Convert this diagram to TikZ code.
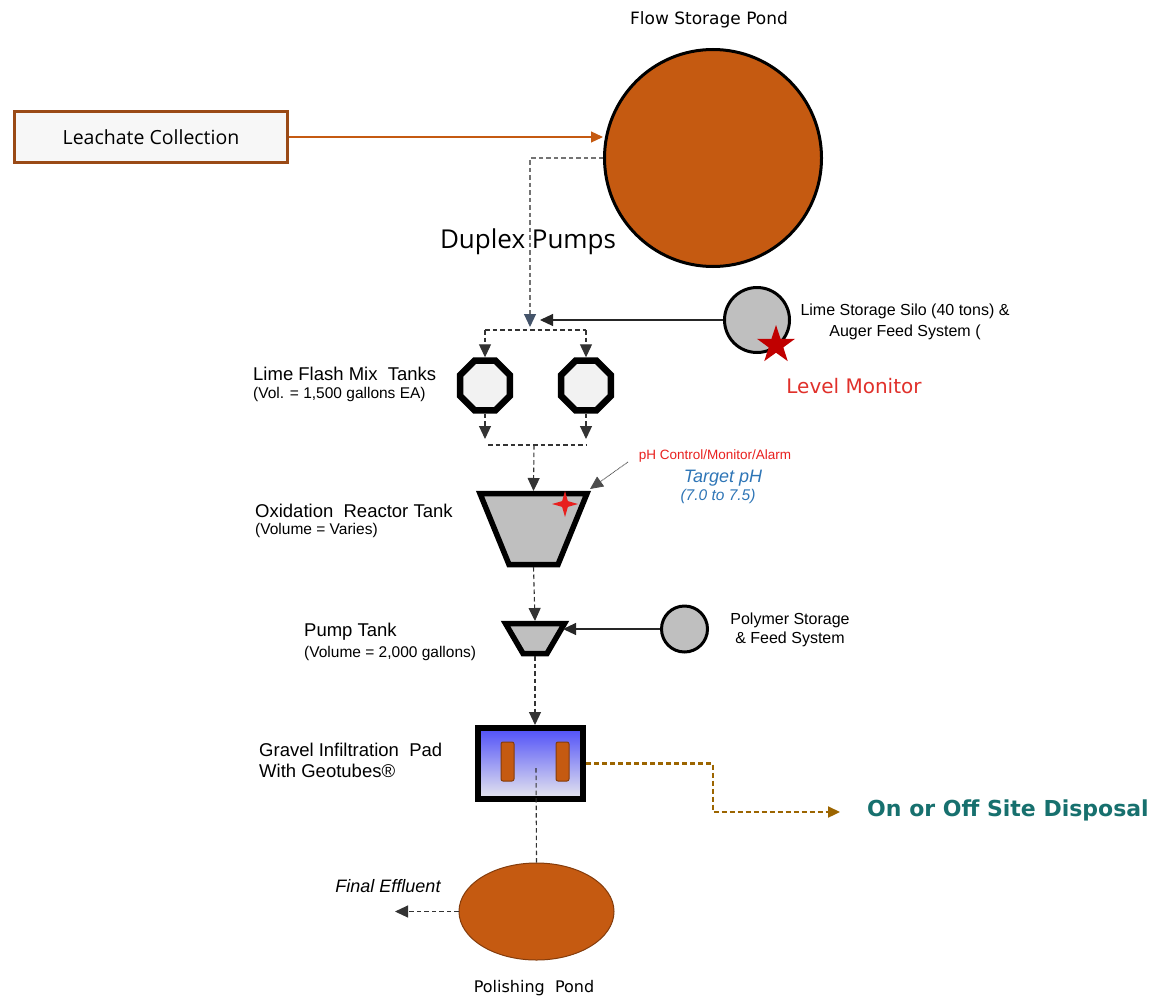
\documentclass[tikz,border=0pt]{standalone}
\usepackage{fontspec}
\setmainfont{Liberation Sans}
\newfontfamily\osans{Open Sans}
\newfontfamily\dvs{DejaVu Sans}
\usetikzlibrary{shapes.geometric,arrows.meta}
\definecolor{pondorange}{HTML}{C55A11}
\definecolor{pondedge}{HTML}{843C0C}
\definecolor{boxedge}{HTML}{9A4A16}
\definecolor{tankgray}{HTML}{BFBFBF}
\definecolor{octfill}{HTML}{F2F2F2}
\definecolor{slate}{HTML}{44546A}
\definecolor{padtop}{HTML}{4F4FF8}
\definecolor{padbot}{HTML}{E8E8EE}
\definecolor{dispbrown}{HTML}{9C6500}
\definecolor{tealc}{HTML}{17706E}
\definecolor{lvlred}{HTML}{E0302A}
\definecolor{starred}{HTML}{C00000}
\definecolor{phred}{HTML}{E8201E}
\definecolor{phblue}{HTML}{2E75B6}
\newcommand\fsz[1]{\fontsize{#1}{#1}\selectfont}
\begin{document}
\begin{tikzpicture}[x=1pt,y=-1pt,
  mytip/.tip={Triangle[length=13pt,width=12pt]},
  dline/.style={dash pattern=on 4.5pt off 3pt, line width=1.1pt, draw=black!80},
  sline/.style={line width=1.1pt, draw=black!85},
  tankline/.style={draw=black, line width=5.5pt, fill=tankgray, line join=miter},
  anchorbox/.style={rectangle, inner sep=0pt, outer sep=2.5pt},
  octbox/.style={regular polygon, regular polygon sides=8, minimum size=54pt, draw=black, line width=6.5pt, fill=octfill, inner sep=0pt},
  feedbox/.style={circle, draw=black, line width=3pt, fill=tankgray, inner sep=0pt},
  tubebox/.style={rectangle, rounded corners=2pt, draw=pondedge, line width=1pt, fill=pondorange, minimum width=13pt, minimum height=39pt, inner sep=0pt},
  lbl/.style={anchor=west, inner sep=0pt, text=black},
  txt/.style={inner sep=0pt, text=black}
]
\useasboundingbox (0,0) rectangle (1155,998);

% Flow storage pond
\node[txt, font=\dvs\fsz{17}] (pondlbl) at (709,20) {Flow Storage Pond};
\node[circle, draw=black, line width=3pt, fill=pondorange, minimum size=217pt, inner sep=0pt] (pond) at (713,158) {};

% Leachate collection
\node[rectangle, draw=boxedge, line width=3pt, fill=black!3, minimum width=273pt, minimum height=51pt, inner sep=0pt, font=\osans\fsz{19.5}] (leach) at (151,137) {Leachate Collection};
\draw[line width=1.2pt, draw=pondorange, -{Triangle[length=12pt,width=11pt,color=pondorange]}] (leach.east) -- (leach.east -| pond.west);

% Duplex pumps
\node[txt, font=\osans\fsz{26}] (duplex) at (528,242) {Duplex Pumps};
\coordinate (junc) at (530,327);
\draw[dash pattern=on 4.5pt off 3pt, line width=1.1pt, draw=black!55, -{Triangle[length=13pt,width=12pt,color=slate]}] (pond.west) -| (junc);

% Lime silo
\node[feedbox, minimum size=65pt] (silo) at (757,320) {};
\node[star, star points=5, star point ratio=2.6, fill=starred, minimum size=40pt, inner sep=0pt] (lstar) at (776,345) {};
\node[txt, font=\fsz{16}] (silo1) at (905,311) {Lime Storage Silo (40 tons) \&};
\node[txt, font=\fsz{16}] (silo2) at (905,332) {Auger Feed System (};
\node[txt, font=\dvs\fsz{20}, text=lvlred] (lvl) at (854,386) {Level Monitor};
\coordinate (limetip) at (540,320);
\draw[sline, -mytip] (silo.west) -- (limetip);

% Lime flash mix tanks
\node[octbox] (oct1) at (485,385.5) {};
\node[octbox] (oct2) at (586,385.5) {};
\node[lbl, font=\fsz{18.5}] (lf1) at (253,374) {Lime Flash Mix\ \ Tanks};
\node[lbl, font=\fsz{15.5}] (lf2) at (253,394) {(Vol. = 1,500 gallons EA)};
\coordinate (s1) at (485,330);
\coordinate (s2) at (586,330);
\draw[dline] (s1) -- (s2);
\draw[dline, -mytip] (s1) -- (oct1.north);
\draw[dline, -mytip] (s2) -- (oct2.north);
\coordinate (e1) at (485,439);
\coordinate (e2) at (586,439);
\draw[dline, -mytip] (oct1.south) -- (e1);
\draw[dline, -mytip] (oct2.south) -- (e2);
\coordinate (m1) at (488,445);
\coordinate (m2) at (586,445);
\coordinate (merge) at (534,445);
\draw[dline] (m1) -- (m2);

% Oxidation reactor
\node[anchorbox, minimum width=97pt, minimum height=71pt] (reactor) at (533.5,529) {};
\draw[tankline] ([shift={(-2.5pt,-2.5pt)}]reactor.north west) -- ([shift={(2.5pt,-2.5pt)}]reactor.north east)
  -- ([shift={(-26.5pt,2.5pt)}]reactor.south east) -- ([shift={(26.5pt,2.5pt)}]reactor.south west) -- cycle;
\node[star, star points=4, star point ratio=3.2, fill=phred, minimum size=26pt, inner sep=0pt] (phstar) at (565,504) {};
\draw[dline, -mytip] (merge) -- (reactor.north);
\node[lbl, font=\fsz{18.5}] (ox1) at (255,511) {Oxidation\ \ Reactor Tank};
\node[lbl, font=\fsz{15.5}] (ox2) at (255,530) {(Volume = Varies)};
\node[txt, font=\fsz{13.5}, text=phred] (ph1) at (715,456) {pH Control/Monitor/Alarm};
\node[txt, font=\itshape\fsz{18}, text=phblue] (ph2) at (723,478) {Target pH};
\node[txt, font=\itshape\fsz{15.5}, text=phblue] (ph3) at (718,496) {(7.0 to 7.5)};
\coordinate (phs) at (628,462);
\coordinate (pht) at (590,489);
\draw[dash pattern=on 1pt off 0.6pt, line width=0.8pt, draw=black!70, -mytip] (phs) -- (pht);

% Pump tank
\node[anchorbox, minimum width=49pt, minimum height=30pt] (pump) at (535,638.5) {};
\draw[tankline] ([shift={(-2.5pt,-2.5pt)}]pump.north west) -- ([shift={(2.5pt,-2.5pt)}]pump.north east)
  -- ([shift={(-15pt,2.5pt)}]pump.south east) -- ([shift={(15pt,2.5pt)}]pump.south west) -- cycle;
\draw[dline, -mytip] (reactor.south) -- (pump.north);
\node[lbl, font=\fsz{18.5}] (pt1) at (304,632) {Pump Tank};
\node[lbl, font=\fsz{15.5}] (pt2) at (304,653) {(Volume = 2,000 gallons)};
\node[feedbox, minimum size=46pt] (poly) at (684.5,629) {};
\node[txt, font=\fsz{16}] (poly1) at (790,620) {Polymer Storage};
\node[txt, font=\fsz{16}] (poly2) at (790,639) {\& Feed System};
\coordinate (polytip) at (563,629);
\draw[sline, -mytip] (poly.west) -- (polytip);

% Gravel infiltration pad
\node[rectangle, draw=black, line width=6pt, top color=padtop, bottom color=padbot, minimum width=105pt, minimum height=71pt, inner sep=0pt] (pad) at (530.5,763.5) {};
\node[tubebox] (tube1) at (507.5,761.5) {};
\node[tubebox] (tube2) at (562.5,761.5) {};
\draw[dline, -mytip] (pump.south) -- (pad.north -| pump.south);
\node[lbl, font=\fsz{18.5}] (gp1) at (259,750) {Gravel Infiltration\ \ Pad};
\node[lbl, font=\fsz{18.5}] (gp2) at (259,771) {With Geotubes®};

% Disposal
\coordinate (bend) at (713,812);
\coordinate (dtip) at (840,812);
\draw[dash pattern=on 5pt off 3pt, line width=2.2pt, draw=dispbrown, -{Triangle[length=12pt,width=11pt,color=dispbrown]}] (pad.east) -| (bend) -- (dtip);
\node[txt, font=\dvs\bfseries\fsz{22}, text=tealc] (disp) at (1008,810) {On or Off Site Disposal};

% Polishing pond
\node[ellipse, draw=pondedge, line width=1pt, fill=pondorange, minimum width=155pt, minimum height=97pt, inner sep=0pt] (polish) at (536.5,911.5) {};
\coordinate (padmid) at (536,768);
\draw[dline] (padmid) -- (polish.north);
\node[txt, font=\dvs\fsz{16}] (pplbl) at (534,988) {Polishing\ \ Pond};
\coordinate (fe) at (395,911.5);
\draw[dline, -mytip] (polish.west) -- (fe);
\node[txt, font=\itshape\fsz{18}] (felbl) at (388,886) {Final Effluent};
\end{tikzpicture}
\end{document}
